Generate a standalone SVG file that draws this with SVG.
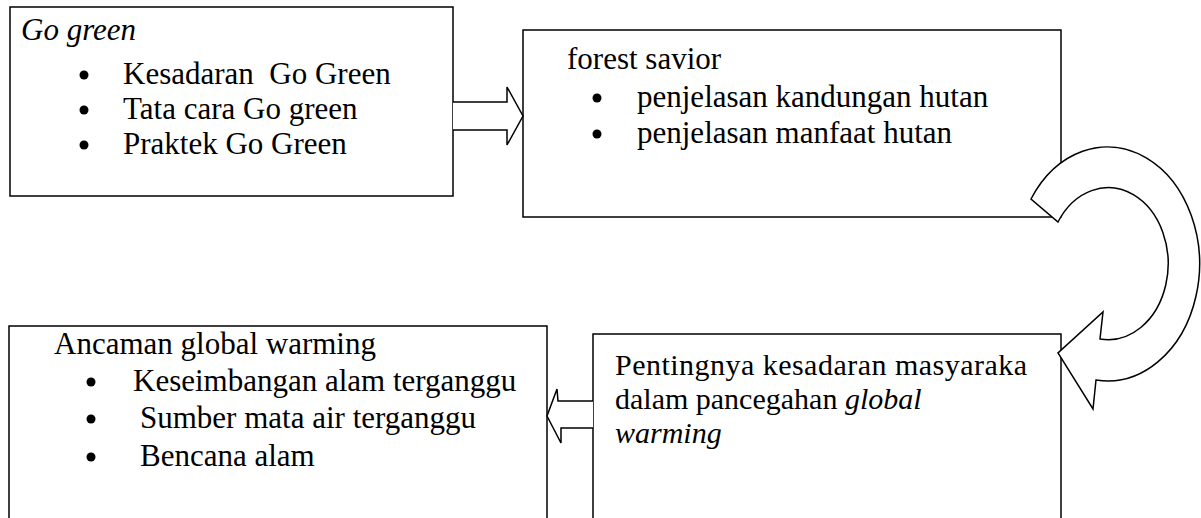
<svg xmlns="http://www.w3.org/2000/svg" width="1201" height="518" viewBox="0 0 1201 518">
<style>
.box{fill:#fff;stroke:#000;stroke-width:1.5}
.arr{fill:#fff;stroke:#000;stroke-width:1.5;stroke-linejoin:miter}
.dot{fill:#000}
text{font-family:"Liberation Serif","Times New Roman",serif;font-size:31px;fill:#000}
.s{font-size:30px}
.i{font-style:italic}
</style>
<rect width="1201" height="518" fill="#fff"/>
<g id="node-gogreen">
<rect class="box" x="10" y="7" width="443" height="189"/>
<text class="i" x="21" y="40">Go green</text>
<circle class="dot" cx="84" cy="75" r="4.5"/><text x="123" y="84" xml:space="preserve">Kesadaran  Go Green</text>
<circle class="dot" cx="84" cy="110" r="4.5"/><text x="123" y="119">Tata cara Go green</text>
<circle class="dot" cx="84" cy="145" r="4.5"/><text x="123" y="154">Praktek Go Green</text>
</g>
<g id="node-forest">
<rect class="box" x="523" y="30" width="538" height="187"/>
<text x="567" y="69">forest savior</text>
<circle class="dot" cx="597" cy="98" r="4.5"/><text x="637" y="107">penjelasan kandungan hutan</text>
<circle class="dot" cx="597" cy="134" r="4.5"/><text x="637" y="143">penjelasan manfaat hutan</text>
</g>
<g id="node-pentingnya">
<rect class="box" x="593" y="334" width="468" height="200"/>
<text class="s" x="615" y="375" textLength="412" lengthAdjust="spacing">Pentingnya kesadaran masyaraka</text>
<text class="s" x="615" y="409">dalam pancegahan <tspan class="i">global</tspan></text>
<text class="s i" x="615" y="443">warming</text>
</g>
<g id="node-ancaman">
<rect class="box" x="9" y="326" width="538" height="210"/>
<text x="54" y="354">Ancaman global warming</text>
<circle class="dot" cx="91" cy="382" r="4.5"/><text x="133" y="391">Keseimbangan alam terganggu</text>
<circle class="dot" cx="91" cy="419" r="4.5"/><text x="140" y="428">Sumber mata air terganggu</text>
<circle class="dot" cx="91" cy="457" r="4.5"/><text x="140" y="466">Bencana alam</text>
</g>
<g id="connectors">
<path class="arr" d="M453,102 L507,102 L507,87 L523,116 L507,145 L507,130 L453,130"/>
<path class="arr" d="M1031,199 A92 117 0 1 1 1096,380 L1093,409 L1058,353 L1103,312 L1100,339 A60 76 0 1 0 1058,222 Z"/>
<path class="arr" d="M593,401 L558,401 L557,389 L547,416 L561,443 L561,428 L593,428"/>
</g>
</svg>
